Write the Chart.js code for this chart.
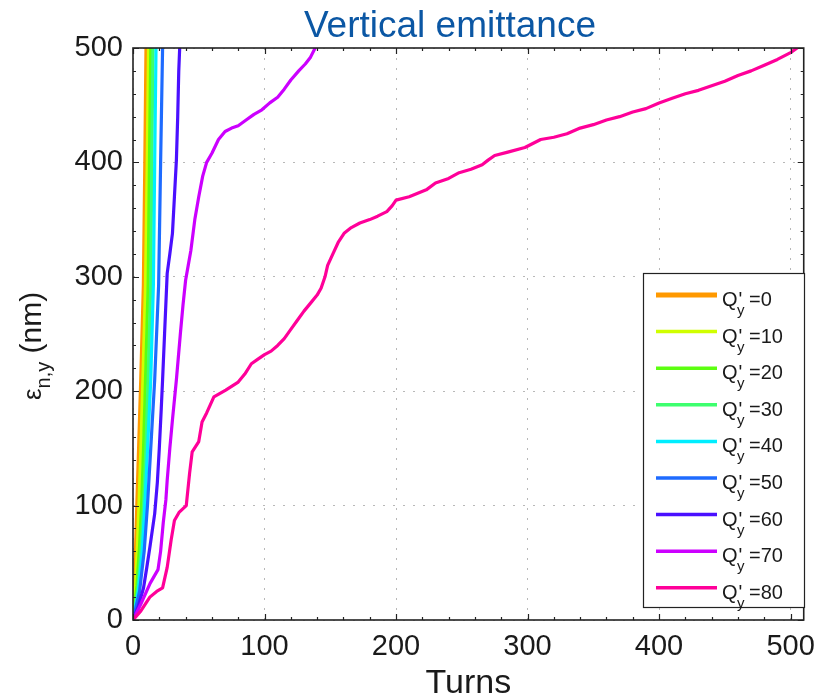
<!DOCTYPE html>
<html>
<head>
<meta charset="utf-8">
<script src="https://cdn.jsdelivr.net/npm/chart.js@4.4.1/dist/chart.umd.min.js"></script>
<style>
  html, body { margin: 0; padding: 0; background: #ffffff; }
  #wrap { width: 825px; height: 696px; }
</style>
</head>
<body>
<div id="wrap"><canvas id="c" width="825" height="696"></canvas></div>
<script>
// Chromaticity settings shown in the legend (Q'y = ...)
const chromaLabels = ['0', '10', '20', '30', '40', '50', '60', '70', '80'];
const chromaColors = ['#ff9900', '#d0ff00', '#5cff10', '#3dff6e', '#00eeff',
                      '#1e6bff', '#4a10ff', '#cc00ff', '#ff0099'];

// Vertical normalised emittance (nm) versus turn number, one array per chromaticity
const q0  = [[0,0],[1.5,40],[3,100],[4.5,155],[6,210],[8,293],[9,390],[10,500]];
const q10 = [[0,0],[2,30],[3.5,70],[4.5,100],[6,150],[7.5,210],[9.5,293],[10.8,400],[11.8,500]];
const q20 = [[0,0],[3,30],[5,65],[6.5,100],[8,150],[9.5,210],[11.5,293],[12.5,400],[13.5,500]];
const q30 = [[0,0],[3.5,25],[6,60],[8,100],[9.8,150],[11.5,210],[13.5,293],[14.3,400],[15.2,500]];
const q40 = [[0,0],[4,25],[7,60],[9,100],[11.3,155],[13.5,210],[15.5,293],[16.5,400],[17.5,500]];
const q50 = [[0,0],[5,25],[8.5,60],[11,100],[14,160],[16.5,210],[19.5,293],[21,400],[22.5,500]];
const q60 = [[0,0],[4,12],[8,28],[10.5,46],[13,65],[16.5,93],[18.5,120],[20,150],[21.5,185],
             [22.5,210],[24,250],[26,303],[28,320],[30,338],[31.5,370],[33,402],[34,440],
             [34.8,480],[35.5,500]];
const q70 = [[0,0],[6,14],[13,32],[19,44],[21,60],[23,85],[25,105],[26,122],[28,150],[30,175],
             [33,210],[36,250],[38,275],[40,297],[42,310],[44,323],[47,350],[50,370],[53,388],
             [56,400],[60,408],[65,420],[70,427],[75,430],[80,432],[86,437],[92,442],[98,446],
             [104,452],[110,457],[115,464],[120,472],[126,480],[131,486],[135,492],[138.5,500]];
const q80 = [[0,0],[6,8],[12.8,20],[18,25],[22.5,28],[26,46],[29,70],[31.5,87],[35,94],
             [40.5,100],[43,128],[45,147],[50,156],[52.5,173],[56,181],[61.5,195],[70.5,201],
             [80,208],[85,215],[90,224],[95,228],[100,232],[105,235],[110,240],[115,246],
             [120,254],[125,262],[130,270],[135,277],[140,284],[143,290],[146,300],[148,310],
             [152,320],[156,330],[160.5,338],[166,343],[172.5,347],[180,350],[186,353],
             [193,357],[197,362],[200,367],[210,370],[223,376],[230,382],[240,386],[248,391],
             [257,394],[265.5,398],[270,402],[275,406],[285,409],[298,413],[310,420],[320,422],
             [330,425],[340,430],[350,433],[360,437],[370,440],[380,444],[390,447],[400,452],
             [410,456],[420,460],[430,463],[440,467],[450,471],[460,476],[470,480],[480,485],
             [490,490],[500,496],[505,500]];
const chromaSeries = [q0, q10, q20, q30, q40, q50, q60, q70, q80];

// Axis ticks
const xTickValues = [0, 100, 200, 300, 400, 500];
const yTickValues = [0, 100, 200, 300, 400, 500];

const FONT = "'Liberation Sans', Arial, Helvetica, sans-serif";
const TEXT = '#1a1a1a';

// Box frame with inward major/minor tick marks on all four sides
const framePlugin = {
  id: 'frame',
  afterDatasetsDraw(chart) {
    const { ctx, chartArea: a, scales: { x, y } } = chart;
    ctx.save();
    ctx.strokeStyle = '#222';
    ctx.lineWidth = 1.2;
    for (let v = 0; v <= x.max; v += 20) {
      const px = Math.round(x.getPixelForValue(v)) + 0.5;
      const len = v % 100 === 0 ? 6 : 3;
      ctx.beginPath();
      ctx.moveTo(px, a.bottom); ctx.lineTo(px, a.bottom - len);
      ctx.moveTo(px, a.top); ctx.lineTo(px, a.top + len);
      ctx.stroke();
    }
    for (let v = 0; v <= y.max; v += 20) {
      const py = Math.round(y.getPixelForValue(v)) + 0.5;
      const len = v % 100 === 0 ? 6 : 3;
      ctx.beginPath();
      ctx.moveTo(a.left, py); ctx.lineTo(a.left + len, py);
      ctx.moveTo(a.right, py); ctx.lineTo(a.right - len, py);
      ctx.stroke();
    }
    ctx.lineWidth = 1.6;
    ctx.strokeRect(a.left, a.top, a.right - a.left, a.bottom - a.top);
    ctx.restore();
  }
};

// Legend box with subscripted labels
const legendPlugin = {
  id: 'subLegend',
  afterDraw(chart) {
    const { ctx } = chart;
    const bx = 643.5, by = 273.5, bw = 161, bh = 334;
    ctx.save();
    ctx.fillStyle = '#ffffff';
    ctx.fillRect(bx, by, bw, bh);
    ctx.strokeStyle = '#222';
    ctx.lineWidth = 1.2;
    ctx.strokeRect(bx, by, bw, bh);
    chart.data.datasets.forEach((ds, i) => {
      const ly = 295 + i * 36.6;
      ctx.strokeStyle = ds.borderColor;
      ctx.lineWidth = i === 0 ? 5 : 3.5;
      ctx.beginPath();
      ctx.moveTo(656, ly); ctx.lineTo(717, ly);
      ctx.stroke();
      const tx = 722, base = ly + 11;
      ctx.fillStyle = TEXT;
      ctx.textBaseline = 'alphabetic';
      ctx.textAlign = 'left';
      ctx.font = '20px ' + FONT;
      ctx.fillText('Q', tx, base);
      const qw = ctx.measureText('Q').width;
      ctx.fillText("'", tx + qw + 1, base);
      ctx.font = '15px ' + FONT;
      ctx.fillText('y', tx + qw - 0.5, base + 9);
      ctx.font = '20px ' + FONT;
      ctx.fillText('=' + chromaLabels[i], 749, base);
    });
    ctx.restore();
  }
};

// Title and vertical axis label (with subscript)
const textPlugin = {
  id: 'texts',
  afterDraw(chart) {
    const { ctx } = chart;
    ctx.save();
    ctx.fillStyle = '#0b57a4';
    ctx.font = '37px ' + FONT;
    ctx.textAlign = 'center';
    ctx.textBaseline = 'alphabetic';
    ctx.fillText('Vertical emittance', 450, 37);

    ctx.fillStyle = TEXT;
    ctx.textAlign = 'left';
    ctx.rotate(-Math.PI / 2);
    let pos = -400;
    ctx.font = '26px ' + FONT;
    ctx.fillText('\u03b5', pos, 41);
    pos += ctx.measureText('\u03b5').width;
    ctx.font = '20px ' + FONT;
    ctx.fillText('n,y', pos, 50);
    pos += ctx.measureText('n,y').width;
    ctx.font = '30px ' + FONT;
    ctx.fillText(' (nm)', pos, 41);
    ctx.restore();
  }
};

const datasets = chromaSeries.map((s, i) => ({
  label: "Q'y=" + chromaLabels[i],
  data: s.map(p => ({ x: p[0], y: p[1] })),
  borderColor: chromaColors[i],
  backgroundColor: chromaColors[i],
  borderWidth: i === 0 ? 3.5 : 3.2,
  pointRadius: 0,
  tension: 0,
  fill: false,
  borderJoinStyle: 'round',
  borderCapStyle: 'round',
  order: chromaSeries.length - i
}));

new Chart(document.getElementById('c'), {
  type: 'line',
  data: { datasets },
  plugins: [framePlugin, legendPlugin, textPlugin],
  options: {
    responsive: false,
    animation: false,
    devicePixelRatio: 1,
    layout: { padding: { top: 48, right: 12, left: 0, bottom: 0 } },
    plugins: {
      legend: { display: false },
      title: { display: false },
      tooltip: { enabled: false }
    },
    scales: {
      x: {
        type: 'linear',
        min: 0,
        max: 510,
        afterBuildTicks(scale) { scale.ticks = xTickValues.map(v => ({ value: v })); },
        afterFit(scale) { scale.height = 76; },
        ticks: { font: { family: FONT, size: 29 }, color: TEXT, padding: 10, maxRotation: 0, autoSkip: false },
        grid: { color: '#b8b8b8', lineWidth: 1, drawTicks: false },
        border: { display: false, dash: [2, 8] },
        title: {
          display: true,
          text: 'Turns',
          color: TEXT,
          font: { family: FONT, size: 34, lineHeight: 0.8 },
          padding: { top: 0, bottom: -1 }
        }
      },
      y: {
        type: 'linear',
        min: 0,
        max: 500,
        afterBuildTicks(scale) { scale.ticks = yTickValues.map(v => ({ value: v })); },
        afterFit(scale) { scale.width = 133; },
        ticks: { font: { family: FONT, size: 29 }, color: TEXT, padding: 10, autoSkip: false },
        grid: { color: '#b8b8b8', lineWidth: 1, drawTicks: false },
        border: { display: false, dash: [2, 8] }
      }
    }
  }
});
</script>
</body>
</html>
